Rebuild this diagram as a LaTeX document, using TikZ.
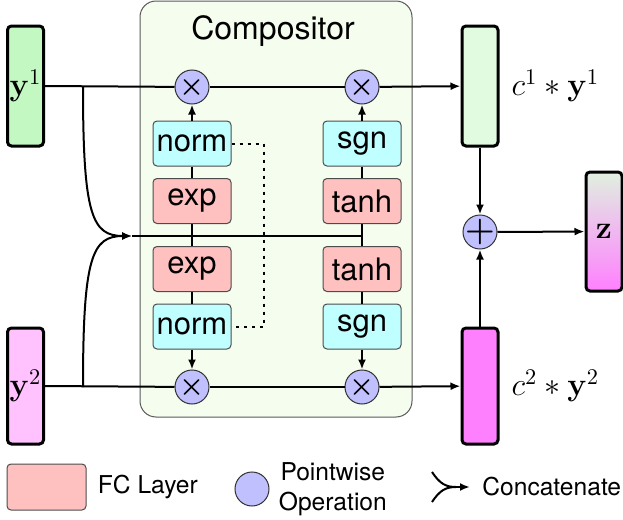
\documentclass[tikz,border=0pt]{standalone}
\usepackage{fix-cm}
\usepackage{amsmath, amssymb}
\usepackage[no-math]{fontspec}
\setmainfont{TeX Gyre Heros}
\usetikzlibrary{arrows.meta, positioning, calc}

\definecolor{inOneGreen}{HTML}{C3F8C3}
\definecolor{outOneGreen}{HTML}{E0FBE0}
\definecolor{inTwoPink}{HTML}{FFC2FF}
\definecolor{outTwoPink}{HTML}{FF80FF}
\definecolor{zTop}{HTML}{E0F0E0}
\definecolor{fcRed}{HTML}{FFC0C0}
\definecolor{normCyan}{HTML}{C0FFFF}
\definecolor{opBlue}{HTML}{C0C0FF}
\definecolor{compGreen}{HTML}{F5FDEF}

\begin{document}
\begin{tikzpicture}[x=0.5pt, y=-0.5pt,
    flow/.style={line width=1pt},
    arrowflow/.style={flow, -{Latex[length=5pt, width=4pt]}},
    vecbox/.style={draw, line width=1.5pt, rounded corners=2pt,
        minimum width=18pt, inner sep=0pt, font=\fontsize{16}{19}\selectfont},
    layerbox/.style={draw=black!70, line width=0.5pt, rounded corners=2pt,
        minimum width=39pt, minimum height=22.5pt, inner sep=0pt,
        font=\fontsize{15.5}{18}\selectfont},
    fcbox/.style={layerbox, fill=fcRed},
    normbox/.style={layerbox, fill=normCyan},
    pointop/.style={circle, draw=black!80, line width=0.5pt, fill=opBlue,
        minimum size=17pt, inner sep=-4pt, font=\fontsize{14}{17}\selectfont},
    legendtext/.style={font=\fontsize{12.3}{15}\selectfont, inner sep=0pt}
]

    \useasboundingbox (0,0) rectangle (623,520);

    % ============================================================
    % COMPOSITOR PANEL
    % ============================================================
    \draw[draw=black!65, line width=0.5pt, fill=compGreen, rounded corners=8pt]
        (140,1) rectangle (412,417);
    \node[font=\fontsize{16}{19}\selectfont, anchor=base] (title) at (273,39)
        {Compositor};

    % ============================================================
    % INPUT AND OUTPUT VECTORS
    % ============================================================
    \node[vecbox, fill=inOneGreen, minimum height=60pt] (y1) at (25.5,86)
        {$\mathbf{y}^1$};
    \node[vecbox, fill=inTwoPink, minimum height=58pt] (y2) at (25.5,386)
        {$\mathbf{y}^2$};
    \node[vecbox, fill=outOneGreen, minimum height=60pt] (c1) at (480,86) {};
    \node[vecbox, fill=outTwoPink, minimum height=58pt] (c2) at (480,386) {};
    \node[vecbox, top color=zTop, bottom color=outTwoPink, minimum height=59.5pt]
        (z) at (604,231.5) {$\mathbf{z}$};

    \node[anchor=west, font=\fontsize{16}{19}\selectfont] (lab1)
        at ([xshift=2.5pt]c1.east) {$c^1 * \mathbf{y}^1$};
    \node[anchor=west, font=\fontsize{16}{19}\selectfont] (lab2)
        at ([xshift=2.5pt]c2.east) {$c^2 * \mathbf{y}^2$};

    % ============================================================
    % LAYER COLUMNS
    % ============================================================
    \node[normbox] (norm1) at (192,143.5) {norm};
    \node[fcbox]   (exp1)  at (192,201)   {exp};
    \node[fcbox]   (exp2)  at (192,269)   {exp};
    \node[normbox] (norm2) at (192,326.5) {norm};

    \node[normbox] (sgn1)  at (362,143.5) {sgn};
    \node[fcbox]   (tanh1) at (362,201)   {tanh};
    \node[fcbox]   (tanh2) at (362,269)   {tanh};
    \node[normbox] (sgn2)  at (362,326.5) {sgn};

    % ============================================================
    % POINTWISE OPERATIONS
    % ============================================================
    \node[pointop] (mulA) at (192,87)  {$\boldsymbol{\times}$};
    \node[pointop] (mulB) at (362,87)  {$\boldsymbol{\times}$};
    \node[pointop] (mulC) at (192,387) {$\boldsymbol{\times}$};
    \node[pointop] (mulD) at (362,387) {$\boldsymbol{\times}$};
    \node[pointop, font=\fontsize{17}{20}\selectfont] (add) at (480,232)
        {$\boldsymbol{+}$};

    % ============================================================
    % CONCATENATION
    % ============================================================
    \coordinate (s1)  at (83,87);
    \coordinate (s2)  at (83,387);
    \coordinate (cat) at (132,236);
    \coordinate (mix) at (362,236);

    \draw[arrowflow] (s1) .. controls (83,215) and (92,236) .. (cat);
    \draw[arrowflow] (s2) .. controls (83,257) and (92,236) .. (cat);
    \draw[flow] (cat) -- (mix);

    % ============================================================
    % CONNECTIONS
    % ============================================================
    \draw[flow] (y1.east) -- (mulA);
    \draw[flow] (mulA) -- (mulB);
    \draw[arrowflow] (mulB) -- (c1);
    \draw[flow] (y2.east) -- (mulC);
    \draw[flow] (mulC) -- (mulD);
    \draw[arrowflow] (mulD) -- (c2);

    \draw[flow] (norm1) -- (exp1);
    \draw[flow] (exp1) -- (exp2);
    \draw[flow] (exp2) -- (norm2);
    \draw[arrowflow] (norm1) -- (mulA);
    \draw[arrowflow] (norm2) -- (mulC);

    \draw[flow] (sgn1) -- (tanh1);
    \draw[flow] (tanh1) -- (tanh2);
    \draw[flow] (tanh2) -- (sgn2);
    \draw[arrowflow] (sgn1) -- (mulB);
    \draw[arrowflow] (sgn2) -- (mulD);

    \draw[flow, dash pattern=on 1.5pt off 2.5pt]
        (norm1.east) -- ++(32,0) |- (norm2.east);

    \draw[arrowflow] (c1) -- (add);
    \draw[arrowflow] (c2) -- (add);
    \draw[arrowflow] (add) -- (z);

    % ============================================================
    % LEGEND
    % ============================================================
    \node[fcbox, minimum width=39.5pt, minimum height=23pt] (legfc) at (46.5,487) {};
    \node[legendtext, right=5.5pt of legfc] (legfctext) {FC Layer};

    \node[pointop] (legop) at (252,489) {};
    \node[legendtext, align=center, right=4.5pt of legop] (legoptext)
        {Pointwise\\Operation};

    \draw[flow] (432,472) .. controls (440,484) and (446,487) .. (456,487);
    \draw[flow] (432,502) .. controls (440,490) and (446,487) .. (456,487);
    \draw[arrowflow] (452,487) -- (470,487);
    \node[legendtext, anchor=west] (legcattext) at (482,487) {Concatenate};

\end{tikzpicture}
\end{document}
